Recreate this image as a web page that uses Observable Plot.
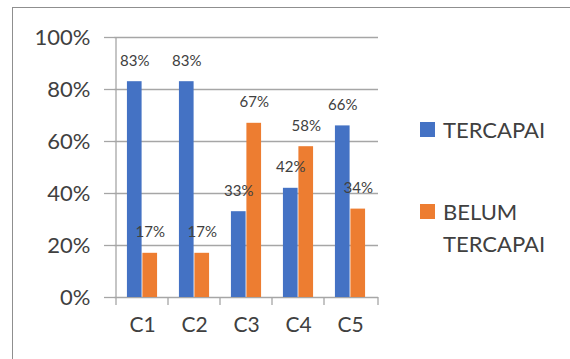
<!DOCTYPE html>
<html>
<head>
<meta charset="utf-8">
<script src="https://cdn.jsdelivr.net/npm/d3@7"></script>
<script src="https://cdn.jsdelivr.net/npm/@observablehq/plot@0.6"></script>
<style>
  html, body { margin: 0; padding: 0; background: #fff; }
  #wrap { position: relative; width: 570px; height: 359px; overflow: hidden; font-family: Lato, "Open Sans", sans-serif; color: #404040; }
  #wrap svg { position: absolute; left: 0; top: 0; }
  #box { position: absolute; left: 12px; top: 7px; right: -2px; bottom: -2px; border-top: 1px solid #8f8f8f; border-left: 1px solid #8f8f8f; pointer-events: none; }
  #legend { position: absolute; left: 420px; top: 114px; font-size: 22px; line-height: 32px; }
  .item { display: flex; align-items: flex-start; }
  .swatch { width: 15px; height: 15px; margin-top: 8px; margin-right: 8px; flex: none; }
</style>
</head>
<body>
<div id="wrap">
  <div id="box"></div>
  <div id="legend"></div>
</div>
<script>
// Achievement per criterion: share reached vs. not yet reached
const categories = ["C1", "C2", "C3", "C4", "C5"];
const seriesNames = ["TERCAPAI", "BELUM TERCAPAI"];
const tercapai = [0.83, 0.83, 0.33, 0.42, 0.66];
const belumTercapai = [0.17, 0.17, 0.67, 0.58, 0.34];
const yTicks = [0, 0.2, 0.4, 0.6, 0.8, 1];
const colors = ["#4472C4", "#ED7D31"];

const rowsA = categories.map((c, i) => ({cat: c, series: seriesNames[0], value: tercapai[i]}));
const rowsB = categories.map((c, i) => ({cat: c, series: seriesNames[1], value: belumTercapai[i]}));

const W = 570, H = 359;
const mL = 114, mR = 192, mT = 37, mB = 62;
const band = (W - mL - mR) / categories.length;
const barW = band * 0.293;
const outer = (band - 2 * barW) / 2;
const pct = d3.format(".0%");
const gridColor = "#a6a6a6";

// category separators on the baseline, plus the vertical value axis line
function categoryTicks(index, scales, values, dims) {
  const g = d3.create("svg:g").attr("stroke", gridColor).attr("stroke-width", 1.3);
  const y0 = scales.y(0), y1 = scales.y(1);
  const edges = categories.map(c => scales.x(c)).concat([dims.width - dims.marginRight]);
  g.append("line").attr("x1", edges[0]).attr("x2", edges[0]).attr("y1", y1).attr("y2", y0);
  for (const e of edges) {
    g.append("line").attr("x1", e).attr("x2", e).attr("y1", y0).attr("y2", y0 + 8);
  }
  return g.node();
}

const chart = Plot.plot({
  width: W,
  height: H,
  marginLeft: mL,
  marginRight: mR,
  marginTop: mT,
  marginBottom: mB,
  style: {fontFamily: "Lato, 'Open Sans', sans-serif", color: "#404040", background: "transparent"},
  x: {domain: categories, padding: 0, label: null},
  y: {domain: [0, 1], label: null},
  marks: [
    Plot.ruleY(yTicks, {stroke: gridColor, strokeWidth: 1.3}),
    Plot.axisY({ticks: yTicks, tickFormat: pct, tickSize: 10, tickPadding: 14, fontSize: 22, stroke: gridColor, strokeWidth: 1.3, label: null}),
    Plot.axisX({tickSize: 0, tickPadding: 20, fontSize: 21, label: null}),
    categoryTicks,
    Plot.barY(rowsA, {x: "cat", y: "value", fill: colors[0], insetLeft: outer, insetRight: outer + barW}),
    Plot.barY(rowsB, {x: "cat", y: "value", fill: colors[1], insetLeft: outer + barW, insetRight: outer}),
    Plot.text(rowsA, {x: "cat", y: "value", text: d => pct(d.value), dx: -barW / 2, dy: -21, fontSize: 15, fill: "#404040"}),
    Plot.text(rowsB, {x: "cat", y: "value", text: d => pct(d.value), dx: barW / 2, dy: -21, fontSize: 15, fill: "#404040"})
  ]
});
document.getElementById("wrap").prepend(chart);

// legend to the right of the plot
const legend = document.getElementById("legend");
const legendLines = [["TERCAPAI"], ["BELUM", "TERCAPAI"]];
seriesNames.forEach((name, i) => {
  const item = document.createElement("div");
  item.className = "item";
  item.style.marginBottom = i === 0 ? "50px" : "0";
  const sw = document.createElement("div");
  sw.className = "swatch";
  sw.style.background = colors[i];
  const label = document.createElement("div");
  label.innerHTML = legendLines[i].join("<br>");
  item.append(sw, label);
  legend.append(item);
});
</script>
</body>
</html>
